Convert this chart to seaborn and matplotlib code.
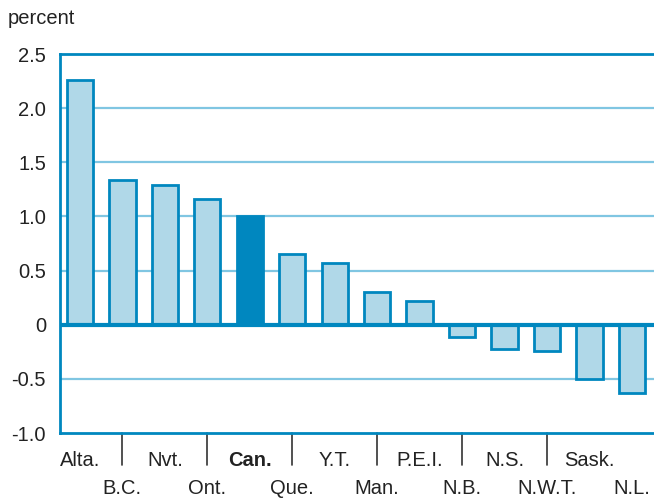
import matplotlib
matplotlib.use("Agg")
import matplotlib.pyplot as plt
import seaborn as sns
import pandas as pd
from matplotlib import font_manager

regions = ["Alta.", "B.C.", "Nvt.", "Ont.", "Can.", "Que.", "Y.T.", "Man.",
           "P.E.I.", "N.B.", "N.S.", "N.W.T.", "Sask.", "N.L."]
growth = [2.26, 1.34, 1.29, 1.16, 1.00, 0.65, 0.57, 0.30,
          0.22, -0.11, -0.22, -0.24, -0.50, -0.63]
y_ticks = [-1.0, -0.5, 0, 0.5, 1.0, 1.5, 2.0, 2.5]
y_tick_labels = ["-1.0", "-0.5", "0", "0.5", "1.0", "1.5", "2.0", "2.5"]

DARK = "#0087bf"
LIGHT = "#b0d8e8"
GRID = "#80c6e2"
TEXT = "#222222"

sns.set_theme(style="white")
names = {f.name for f in font_manager.fontManager.ttflist}
family = [f for f in ["Liberation Sans", "DejaVu Sans"] if f in names]
plt.rcParams["font.family"] = family

df = pd.DataFrame({"region": regions, "growth": growth})
palette = [DARK if r == "Can." else LIGHT for r in regions]

fig = plt.figure(figsize=(6.54, 4.98), dpi=100)
ax = fig.add_axes([60 / 654, 1 - 433 / 498, 1 - 60 / 654, (433 - 54) / 498])

sns.barplot(data=df, x="region", y="growth", hue="region", palette=palette,
            saturation=1, legend=False, width=0.62, edgecolor=DARK, linewidth=2,
            ax=ax, zorder=3)

ax.set_ylim(-1.0, 2.5)
ax.set_xlim(-0.47, 13.52)
ax.set_yticks(y_ticks)
ax.set_yticklabels(y_tick_labels)
for y in y_ticks:
    if y not in (-1.0, 0, 2.5):
        ax.axhline(y, color=GRID, lw=1.6, zorder=1)
ax.axhline(0, color=DARK, lw=3, zorder=4)

for side in ["top", "left", "bottom"]:
    ax.spines[side].set_color(DARK)
    ax.spines[side].set_linewidth(2)
ax.spines["right"].set_visible(False)

ax.tick_params(axis="y", length=0, pad=10, labelsize=14.5, labelcolor=TEXT)

# staggered category labels: even ones on the first row, odd ones below long separators
ax.set_xticks(range(len(regions)))
ax.set_xticklabels([])
ax.tick_params(axis="x", length=0)
for i, r in enumerate(regions):
    row_y = -1.25 if i % 2 == 0 else -1.51
    ax.text(i, row_y, r, ha="center", va="center", fontsize=14.5, color=TEXT,
            fontweight="bold" if r == "Can." else "normal", clip_on=False)
    if i % 2 == 1 and i < len(regions) - 1:
        ax.plot([i, i], [-1.0, -1.30], color="#333333", lw=1.2, clip_on=False)

ax.set_ylabel("")
ax.set_xlabel("")
fig.text(8 / 654, 1 - 18 / 498, "percent", fontsize=14.5, color=TEXT, ha="left", va="center")

fig.savefig("out.png", dpi=100)
